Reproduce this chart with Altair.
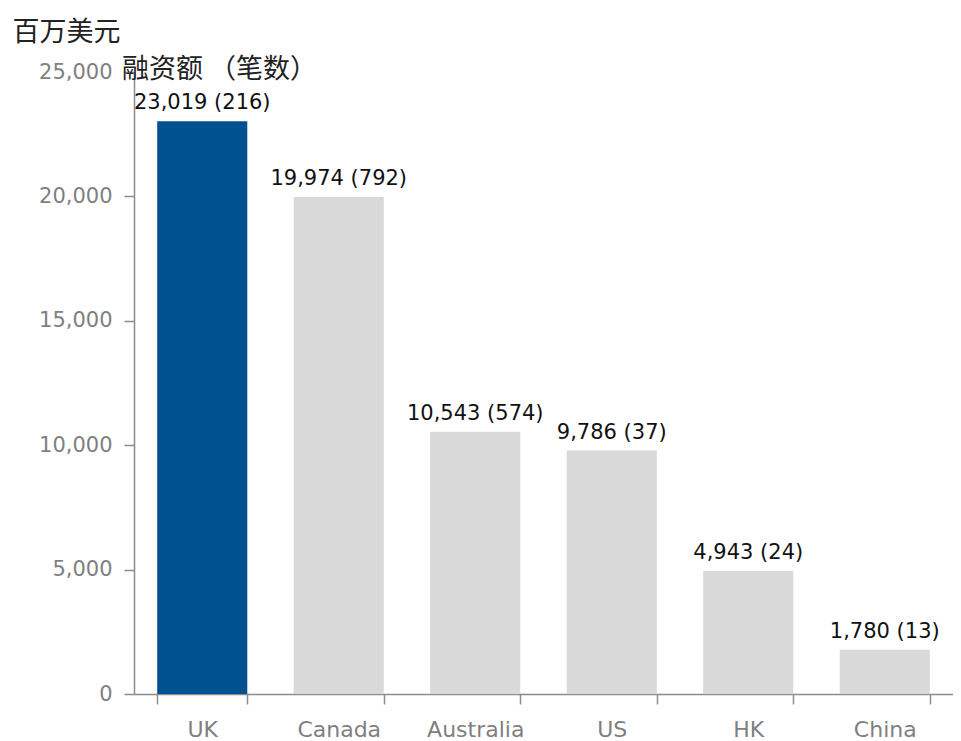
import altair as alt
import pandas as pd

countries = ["UK", "Canada", "Australia", "US", "HK", "China"]
amounts = [23019, 19974, 10543, 9786, 4943, 1780]
deals = [216, 792, 574, 37, 24, 13]
highlight = ["UK"]
y_ticks = [0, 5000, 10000, 15000, 20000, 25000]

df = pd.DataFrame({"country": countries, "amount": amounts, "deals": deals})
df["label"] = [f"{a:,} ({d})" for a, d in zip(amounts, deals)]
df["hl"] = ["yes" if c in highlight else "no" for c in countries]

W, H = 819, 622

x = alt.X("country:N", sort=countries, title=None,
          scale=alt.Scale(paddingInner=0.34, paddingOuter=0.17),
          axis=alt.Axis(labelAngle=0, tickBand="extent", tickSize=10, labelPadding=15,
                        labelFontSize=22, labelColor="#7f7f7f", labelFont="DejaVu Sans",
                        domainColor="#8c8c8c", tickColor="#8c8c8c", domainWidth=1.5, tickWidth=1.5))
y = alt.Y("amount:Q", title="百万美元",
          scale=alt.Scale(domain=[0, 25000], nice=False),
          axis=alt.Axis(values=y_ticks, labelExpr="format(datum.value, ',')",
                        tickSize=10, labelPadding=12, labelFontSize=21, labelColor="#7f7f7f",
                        labelFont="DejaVu Sans", domainColor="#8c8c8c", tickColor="#8c8c8c",
                        domainWidth=1.5, tickWidth=1.5, grid=False,
                        titleAngle=0, titleX=-122, titleY=-40, titleAlign="left",
                        titleBaseline="middle", titleFont="Noto Sans CJK SC", titleFontSize=27,
                        titleFontWeight="normal", titleColor="#222222"))

bars = alt.Chart(df).mark_bar().encode(
    x=x, y=y,
    color=alt.Color("hl:N", scale=alt.Scale(domain=["yes", "no"], range=["#00518F", "#D9D9D9"]),
                    legend=None),
)

labels = alt.Chart(df).mark_text(baseline="bottom", dy=-8, fontSize=21, font="DejaVu Sans",
                                 color="#111111").encode(
    x=alt.X("country:N", sort=countries),
    y=alt.Y("amount:Q"),
    text="label:N",
)

sub = alt.Chart(pd.DataFrame({"t": ["融资额 （笔数）"]})).mark_text(
    align="left", baseline="middle", fontSize=27, font="Noto Sans CJK SC", color="#222222"
).encode(x=alt.value(-12), y=alt.value(-2), text="t:N")

chart = alt.layer(bars, labels, sub).properties(
    width=W, height=H,
    autosize=alt.AutoSizeParams(type="none"),
    padding={"left": 126, "top": 64, "right": 0, "bottom": 47},
).configure_view(stroke=None)

chart.save("out.html", embed_options={"renderer": "svg", "actions": False})
